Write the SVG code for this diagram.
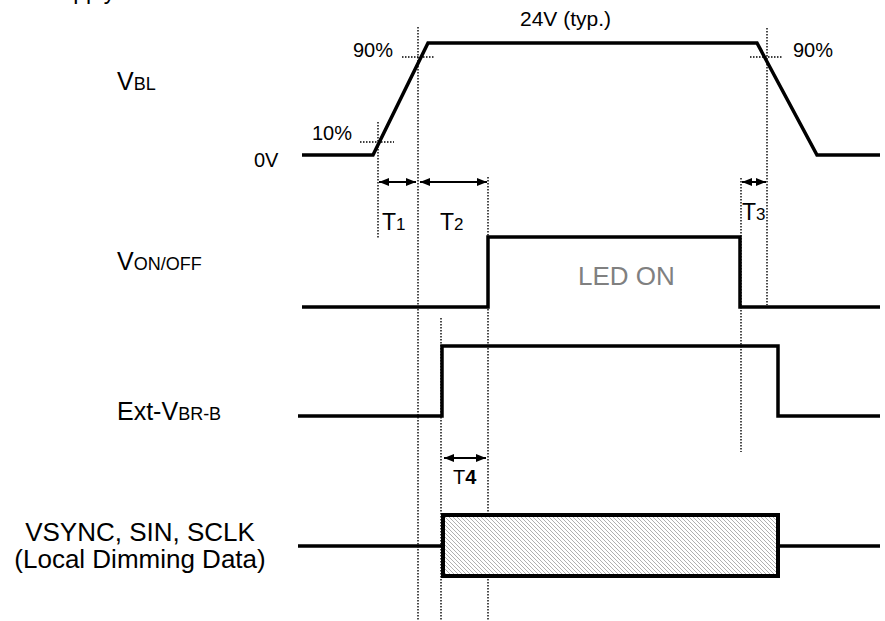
<svg xmlns="http://www.w3.org/2000/svg" width="885" height="621" viewBox="0 0 885 621">
<style>
text{font-family:"Liberation Sans",Arial,sans-serif;fill:#000}
.w{fill:none;stroke:#000;stroke-width:3.5;stroke-linejoin:miter;stroke-linecap:butt}
.d{fill:none;stroke:#000;stroke-width:1.4;stroke-dasharray:1.5 1.5}
.a{fill:none;stroke:#000;stroke-width:2;marker-start:url(#ah);marker-end:url(#ah)}
.lbl{font-size:25px}
.sm{font-size:18px}
.pc{font-size:20px}
</style>
<defs>
<marker id="ah" viewBox="0 0 10 8" refX="10" refY="4" markerWidth="10" markerHeight="8" markerUnits="userSpaceOnUse" orient="auto-start-reverse">
<path d="M0,0 L10,4 L0,8 Z" fill="#000"/>
</marker>
<pattern id="hatch" patternUnits="userSpaceOnUse" width="4" height="4">
<rect width="4" height="4" fill="#fff"/>
<path d="M-1,-1 L5,5 M-1,3 L1,5 M3,-1 L5,1" stroke="#b0b0b0" stroke-width="1"/>
</pattern>
</defs>

<text x="45" y="-1" style="font-size:23px">Supply</text>

<g id="labels">
<text x="117" y="90" class="lbl">V<tspan class="sm">BL</tspan></text>
<text x="254" y="167" class="pc">0V</text>
<text x="117" y="270" class="lbl">V<tspan class="sm">ON/OFF</tspan></text>
<text x="117" y="420" class="lbl">Ext-V<tspan class="sm">BR-B</tspan></text>
<text x="140" y="541" style="font-size:26px" text-anchor="middle">VSYNC, SIN, SCLK</text>
<text x="140" y="568" style="font-size:26px" text-anchor="middle">(Local Dimming Data)</text>
</g>

<g id="guides">
<line class="d" x1="378" y1="122" x2="378" y2="238"/>
<line class="d" x1="418" y1="27" x2="418" y2="620"/>
<line class="d" x1="441" y1="318" x2="441" y2="620"/>
<line class="d" x1="488" y1="177" x2="488" y2="620"/>
<line class="d" x1="741" y1="178" x2="741" y2="452"/>
<line class="d" x1="767" y1="28" x2="767" y2="305"/>
<line class="d" x1="360" y1="142" x2="394" y2="142"/>
<line class="d" x1="402" y1="57" x2="435" y2="57"/>
<line class="d" x1="750" y1="57" x2="783" y2="57"/>
</g>

<g id="vbl">
<path class="w" d="M302,155 H373 L428,43 H757 L817,155 H880"/>
<text x="312" y="140" class="pc">10%</text>
<text x="353" y="57" class="pc">90%</text>
<text x="793" y="57" class="pc">90%</text>
<text x="520" y="26" style="font-size:21px">24V (typ.)</text>
</g>

<g id="von">
<path class="w" d="M302,307 H488 V237 H740 V307 H880"/>
<text x="578" y="285" style="font-size:26px;fill:#808080">LED ON</text>
</g>

<g id="ext">
<path class="w" d="M298,416 H442 V346 H778 V416 H880"/>
</g>

<g id="vsync">
<path class="w" d="M298,546 H443 M778,546 H880"/>
<rect x="443" y="515" width="335" height="61" fill="url(#hatch)" stroke="#000" stroke-width="4"/>
</g>

<g id="connectors">
<line class="a" x1="379" y1="182" x2="416" y2="182"/>
<line class="a" x1="420" y1="182" x2="487" y2="182"/>
<line class="a" x1="742" y1="182" x2="766" y2="182"/>
<line class="a" x1="444" y1="458" x2="486" y2="458"/>
</g>

<g id="tlabels">
<text x="382" y="230" style="font-size:23px">T<tspan style="font-size:17px">1</tspan></text>
<text x="440" y="230" style="font-size:23px">T<tspan style="font-size:17px">2</tspan></text>
<text x="742" y="220" style="font-size:23px">T<tspan style="font-size:17px">3</tspan></text>
<text x="453" y="484" style="font-size:20px">T<tspan font-weight="bold">4</tspan></text>
</g>
</svg>
